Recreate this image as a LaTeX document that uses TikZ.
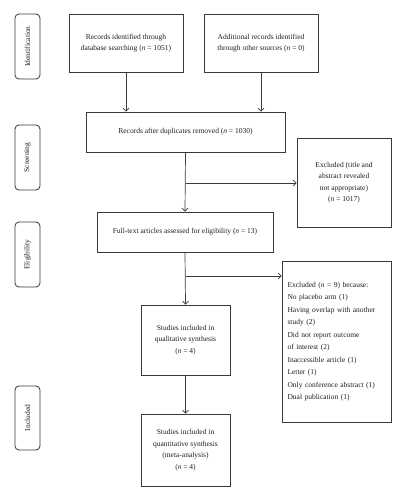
\documentclass[tikz,border=0pt]{standalone}
\usepackage{fontspec}
\setmainfont{Liberation Serif}
\usetikzlibrary{arrows.meta}
\definecolor{ln}{HTML}{3A3A3A}
\definecolor{tx}{HTML}{1E1E1E}
\begin{document}
\begin{tikzpicture}[x=1pt,y=-1pt,
  every node/.style={text=tx,font=\fontsize{7.5}{11.5}\selectfont},
  box/.style={draw=ln,line width=0.85pt,align=center,inner sep=2pt},
  side/.style={draw=ln,line width=0.85pt,rounded corners=4pt,minimum width=25pt,inner sep=0pt},
  arr/.style={draw=ln,line width=0.7pt,-{Straight Barb[length=3pt,width=6pt]}}]
\useasboundingbox (0,0) rectangle (405,500);
% side boxes
\node[side,minimum height=65pt] (sid) at (27.5,46.5) {};
\node[rotate=90] (tid) at (sid.center) {Identification};
\node[side,minimum height=65pt] (ssc) at (27.5,157.5) {};
\node[rotate=90] (tsc) at (ssc.center) {Screening};
\node[side,minimum height=65pt] (sel) at (27.5,254.5) {};
\node[rotate=90] (tel) at (sel.center) {Eligibility};
\node[side,minimum height=64pt] (sin) at (27.5,418) {};
\node[rotate=90] (tin) at (sin.center) {Included};
% main boxes
\node[box,minimum width=114pt,minimum height=58pt] (b1) at (126,43)
  {Records identified through\\database searching (\textit{n} = 1051)};
\node[box,minimum width=114pt,minimum height=58pt] (b2) at (261,43)
  {Additional records identified\\through other sources (\textit{n} = 0)};
\node[box,minimum width=199pt,minimum height=40pt] (dup) at (185.5,132)
  {Records after duplicates removed (\textit{n} = 1030)};
\node[box,minimum width=94pt,minimum height=89pt] (ex1) at (344,182.5)
  {Excluded (title and\\abstract revealed\\not appropriate)\\(\textit{n} = 1017)};
\node[box,minimum width=176pt,minimum height=40pt] (full) at (185,232)
  {Full-text articles assessed for eligibility (\textit{n} = 13)};
\node[box,minimum width=109pt,minimum height=161pt,align=left,inner xsep=5.5pt,text width=98pt] (ex2) at (336.5,341.5)
  {Excluded (\textit{n} = 9) because:\\
   No placebo arm (1)\\[2pt]
   Having overlap with another\\
   study (2)\\[2pt]
   Did not report outcome\\
   of interest (2)\\[2pt]
   Inaccessible article (1)\\
   Letter (1)\\[2pt]
   Only conference abstract (1)\\
   Dual publication (1)};
\node[box,minimum width=89pt,minimum height=70pt] (qual) at (185.5,340)
  {Studies included in\\qualitative synthesis\\(\textit{n} = 4)};
\node[box,minimum width=89pt,minimum height=72pt] (quant) at (185.5,450)
  {Studies included in\\quantitative synthesis\\(meta-analysis)\\(\textit{n} = 4)};
% connectors
\draw[arr] (b1.south) -- (b1.south |- dup.north);
\draw[arr] (b2.south) -- (b2.south |- dup.north);
\draw[arr] (dup.south) -- (full.north);
\coordinate (c1) at (185.5,183);
\draw[arr] (c1) -- (c1 -| ex1.west);
\draw[arr] (full.south) -- (qual.north);
\coordinate (c2) at (185.5,276);
\draw[arr] (c2) -- (c2 -| ex2.west);
\draw[arr] (qual.south) -- (quant.north);
\end{tikzpicture}
\end{document}
